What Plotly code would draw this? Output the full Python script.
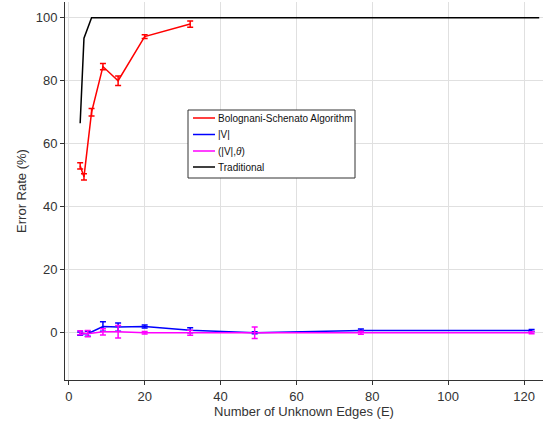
import plotly.graph_objects as go

# Data
bs_x = [3, 4, 6, 9, 13, 20, 32]
bs_y = [53, 49.5, 70, 84.5, 80, 94, 98]
bs_err = [1.0, 1.0, 1.2, 1.0, 1.5, 0.6, 1.0]

v_x = [3, 5, 9, 13, 20, 32, 49, 77, 122]
v_y = [-0.3, -0.3, 2.0, 1.8, 2.0, 0.8, 0.0, 0.7, 0.7]
v_err = [0.5, 0.8, 1.5, 1.3, 0.5, 0.8, 0.3, 0.5, 0.3]

vt_x = [3, 5, 9, 13, 20, 32, 49, 77, 122]
vt_y = [0.0, -0.3, 0.3, 0.3, 0.0, 0.0, 0.0, 0.0, 0.0]
vt_err = [0.6, 1.0, 1.0, 2.0, 0.4, 0.8, 1.8, 0.5, 0.3]

tr_x = [3, 4, 6, 9, 13, 20, 32, 49, 77, 124]
tr_y = [66.5, 93.5, 100, 100, 100, 100, 100, 100, 100, 100]

x_ticks = [0, 20, 40, 60, 80, 100, 120]
y_ticks = [0, 20, 40, 60, 80, 100]

series_names = ["Bolognani-Schenato Algorithm", "|V|", "(|V|,<i>θ</i>)", "Traditional"]
series_colors = ["#ff0000", "#0000ff", "#ff00ff", "#000000"]

fig = go.Figure()

def add(x, y, err, color, name):
    fig.add_trace(go.Scatter(
        x=x, y=y, mode="lines", name=name,
        line=dict(color=color, width=1.5),
        error_y=dict(type="data", array=err, visible=True, color=color,
                     thickness=1.5, width=3),
    ))

add(bs_x, bs_y, bs_err, series_colors[0], series_names[0])
add(v_x, v_y, v_err, series_colors[1], series_names[1])
add(vt_x, vt_y, vt_err, series_colors[2], series_names[2])
fig.add_trace(go.Scatter(x=tr_x, y=tr_y, mode="lines", name=series_names[3],
                         line=dict(color=series_colors[3], width=1.5)))

axis_common = dict(
    showgrid=True, gridcolor="#e0e0e0", gridwidth=1,
    zeroline=False, showline=True, linecolor="#333333", linewidth=1,
    ticks="outside", ticklen=4, tickcolor="#333333",
    tickfont=dict(family="Liberation Sans, Arial", size=13, color="#333333"),
    mirror=False,
)

# Plot area in pixels (for the hand-drawn legend box)
L, R, T, B = 65, 543, 2, 380
def px(xp):
    return (xp - L) / (R - L)
def py(yp):
    return (B - yp) / (B - T)

shapes = [dict(type="rect", xref="paper", yref="paper",
               x0=px(188), x1=px(355), y0=py(178), y1=py(110),
               line=dict(color="#333333", width=1), fillcolor="white", layer="above")]
annotations = []
rows = [118, 134.5, 151, 167]
for name, color, yr in zip(series_names, series_colors, rows):
    shapes.append(dict(type="line", xref="paper", yref="paper",
                       x0=px(193), x1=px(215), y0=py(yr), y1=py(yr),
                       line=dict(color=color, width=1.5), layer="above"))
    annotations.append(dict(xref="paper", yref="paper", x=px(216), y=py(yr),
                            xanchor="left", yanchor="middle", showarrow=False,
                            text=name, font=dict(size=10, color="#111111")))

fig.update_layout(
    width=551, height=421,
    margin=dict(l=L, r=551 - R, t=T, b=421 - B),
    paper_bgcolor="white", plot_bgcolor="white",
    font=dict(family="Liberation Sans, Arial", size=12, color="#333333"),
    xaxis=dict(range=[-1, 125], tickvals=x_ticks,
               title=dict(text="Number of Unknown Edges (E)", standoff=0,
                          font=dict(size=13)),
               **axis_common),
    yaxis=dict(range=[-15, 105], tickvals=y_ticks,
               title=dict(text="Error Rate (%)", standoff=6,
                          font=dict(size=13)),
               **axis_common),
    shapes=shapes,
    annotations=annotations,
    showlegend=False,
)

fig.write_html("out.html")
